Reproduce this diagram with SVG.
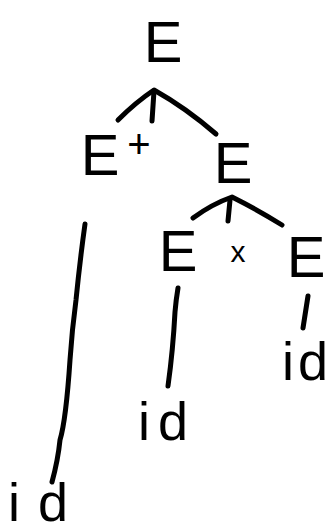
<svg xmlns="http://www.w3.org/2000/svg" width="334" height="531" viewBox="0 0 334 531">
<style>
.t{font-family:"Liberation Sans",Arial,sans-serif;fill:#000;text-anchor:middle}
.e{font-size:58px}
.id{font-size:54px;text-anchor:start}
.c{fill:none;stroke:#000;stroke-width:5;stroke-linecap:round;stroke-linejoin:round}
</style>
<rect width="334" height="531" fill="#fff"/>
<g id="connectors">
<path class="c" d="M118,120 Q136,102 154,90 Q186,108 216,134"/>
<path class="c" d="M154,91 L152,121"/>
<path class="c" d="M193,218 Q212,204 232,197 Q258,210 282,225"/>
<path class="c" d="M230,200 L228,221"/>
<path class="c" d="M85,224 Q80,260 76,300 Q72,330 70,360 Q66,420 60,440 Q58,460 52,482"/>
<path class="c" d="M178,288 Q176,300 175,312 Q173,350 168,386"/>
<path class="c" d="M308,296 L303,328"/>
</g>
<g id="n_root"><text class="t e" x="163" y="62">E</text></g>
<g id="n_E1"><text class="t e" x="100" y="175">E</text></g>
<g id="n_plus"><text class="t" x="139" y="158" font-size="40">+</text></g>
<g id="n_E2"><text class="t e" x="233" y="183">E</text></g>
<g id="n_E3"><text class="t e" x="178" y="271">E</text></g>
<g id="n_times"><text class="t" x="238" y="262" font-size="30">x</text></g>
<g id="n_E4"><text class="t e" x="306" y="277">E</text></g>
<g id="n_id1"><text class="t id" x="138" y="440">i<tspan dx="8">d</tspan></text></g>
<g id="n_id2"><text class="t id" x="282" y="380">i<tspan dx="4">d</tspan></text></g>
<g id="n_id3"><text class="t id" x="8" y="521">i<tspan dx="18">d</tspan></text></g>
</svg>
